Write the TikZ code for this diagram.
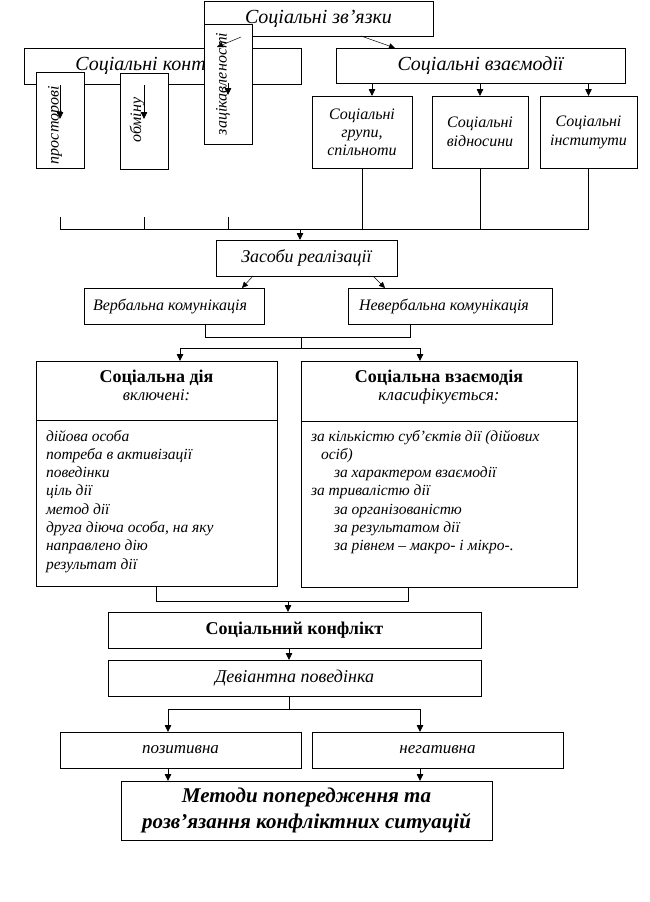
\documentclass[tikz,border=0pt]{standalone}
\usepackage{fontspec}
\setmainfont{Liberation Serif}
\usetikzlibrary{arrows.meta}
\newcommand\fsz[2]{\fontsize{#1pt}{#2pt}\selectfont}
\begin{document}
\begin{tikzpicture}[x=1pt,y=-1pt,
  every node/.style={inner sep=0pt, outer sep=0pt},
  bx/.style={draw, line width=0.9pt, fill=white},
  sz/.style 2 args={minimum width=#1pt, minimum height=#2pt},
  ln/.style={line width=0.8pt},
  arr/.style={ln, -{Triangle[length=7pt,width=6.5pt]}},
  tarr/.style={line width=0.5pt, -{Triangle[length=6pt,width=5.5pt]}},
  it/.style={font=\fsz{15.5}{18}\itshape},
  big/.style={font=\fsz{20}{22}\itshape},
  rot/.style={rotate=90, font=\fsz{16}{18}\itshape},
]
\fill[white] (0,0) rectangle (649,902);
\useasboundingbox (0,0) rectangle (649,902);

% top level
\node[bx, sz={229}{35}, big] (zv) at (318.5,18.5) {Соціальні зв’язки};
\node[bx, sz={277}{36}, big] (kont) at (162.5,66) {Соціальні контакти};
\node[bx, sz={48}{96}] (prost) at (60,120) {};
\node[bx, sz={48}{96}] (obm) at (144,121) {};
\node[bx, sz={48}{120}] (zac) at (228,84) {};
\node[rot] (prostt) at (55,125) {просторові};
\node[rot] (obmt) at (137,120) {обміну};
\node[rot] (zact) at (223,84) {зацікавленості};
\draw[arr] ([yshift=-13pt]prost.north) -- ([yshift=-47pt]prost.north);
\draw[arr] ([yshift=-12pt]obm.north) -- ([yshift=-46pt]obm.north);
\draw[tarr] ([xshift=13pt,yshift=-13pt]zac.north) -- ([xshift=-11pt,yshift=-23pt]zac.north);
\draw[arr] ([yshift=-59pt]zac.north) -- ([yshift=-71pt]zac.north);

\node[bx, sz={289}{35}, big] (vz) at (480.5,65.5) {Соціальні взаємодії};
\draw[tarr] ([xshift=42.5pt]zv.south) -- ([xshift=-85.5pt]vz.north);

\node[bx, sz={100}{72}, align=center, font=\fsz{16}{18}\itshape] (grp) at (362,132) {Соціальні\\групи,\\спільноти};
\node[bx, sz={96}{72}, align=center, font=\fsz{16}{19}\itshape] (vid) at (480,132) {Соціальні\\відносини};
\node[bx, sz={97}{72}, align=center, font=\fsz{16}{19}\itshape] (inst) at (588.5,132) {Соціальні\\інститути};
\draw[arr] ([xshift=10pt]grp.north |- vz.south) -- ([xshift=10pt]grp.north);
\draw[arr] (vid.north |- vz.south) -- (vid.north);
\draw[arr] (inst.north |- vz.south) -- (inst.north);

% bracket
\coordinate (t1) at (60,217);
\coordinate (t2) at (144,217);
\coordinate (t3) at (228,217);
\coordinate (bar) at (300,229);
\draw[ln] (t1) -- (t1 |- bar);
\draw[ln] (t2) -- (t2 |- bar);
\draw[ln] (t3) -- (t3 |- bar);
\draw[ln] (grp.south) -- (grp.south |- bar);
\draw[ln] (vid.south) -- (vid.south |- bar);
\draw[ln] (inst.south) -- (inst.south |- bar);
\draw[ln] (t1 |- bar) -- (inst.south |- bar);

\node[bx, sz={181}{36}, font=\fsz{18}{20}\itshape] (zas) at (306.5,258) {Засоби реалізації};
\draw[arr] (bar) -- (bar |- zas.north);

\node[bx, sz={180}{36}] (verb) at (174,306) {};
\node[anchor=west, font=\fsz{16}{18}\itshape] (verbt) at (93,306) {Вербальна комунікація};
\node[bx, sz={204}{36}] (nverb) at (450,306) {};
\node[anchor=west, font=\fsz{16}{18}\itshape] (nverbt) at (359,306) {Невербальна комунікація};
\draw[tarr] ([xshift=-53.5pt]zas.south) -- ([xshift=68pt]verb.north);
\draw[tarr] ([xshift=66.5pt]zas.south) -- ([xshift=-65pt]nverb.north);

% action / interaction boxes
\node[bx, sz={241}{225}] (dia) at (156.5,473.5) {};
\node[bx, sz={276}{226}] (vzd) at (439,474) {};
\draw[ln] ([yshift=-59pt]dia.north west) -- ([yshift=-59pt]dia.north east);
\draw[ln] ([yshift=-60pt]vzd.north west) -- ([yshift=-60pt]vzd.north east);
\node[font=\fsz{18}{20}\bfseries] (diat) at (156.5,378) {Соціальна дія};
\node[font=\fsz{16.5}{18}\itshape] (diak) at (156.5,395) {включені:};
\node[font=\fsz{18}{20}\bfseries] (vzdt) at (439,378) {Соціальна взаємодія};
\node[font=\fsz{17}{18}\itshape] (vzdk) at (439,396) {класифікується:};

\foreach \t [count=\i] in {дійова особа, потреба в активізації, поведінки, ціль дії, метод дії, {друга діюча особа, на яку}, направлено дію, результат дії}
  \node[anchor=base west, it] (dl\i) at (46,{441+18.33*(\i-1)}) {\t};
\foreach \xx/\t [count=\i] in {311/{за кількістю суб’єктів дії (дійових}, 321/{осіб)}, 334/{за характером взаємодії}, 311/{за тривалістю дії}, 334/{за організованістю}, 334/{за результатом дії}, 334/{за рівнем – макро- і мікро-.}}
  \node[anchor=base west, it] (rl\i) at (\xx,{441+18.33*(\i-1)}) {\t};

% connectors between verbal boxes and action boxes
\coordinate (m1) at (301,337);
\coordinate (m2) at (301,348);
\draw[ln] ([xshift=31pt]verb.south) |- (m1);
\draw[ln] ([xshift=-40pt]nverb.south) |- (m1);
\draw[ln] (m1) -- (m2);
\draw[arr] (m2) -| ([xshift=23.5pt]dia.north);
\draw[arr] (m2) -| ([xshift=-19pt]vzd.north);

% lower part
\node[bx, sz={373}{36}, font=\fsz{18}{20}\bfseries] (konf) at (294.5,630) {Соціальний конфлікт};
\coordinate (m3) at (288,601);
\draw[ln] (dia.south) |- (m3);
\draw[ln] ([xshift=-31pt]vzd.south) |- (m3);
\draw[arr] (m3) -- (m3 |- konf.north);

\node[bx, sz={373}{36}, font=\fsz{18}{20}\itshape] (dev) at (294.5,678) {Девіантна поведінка};
\draw[arr] ([xshift=-5.5pt]konf.south) -- ([xshift=-5.5pt]dev.north);

\node[bx, sz={241}{36}, font=\fsz{17}{20}\itshape] (poz) at (180.5,750) {позитивна};
\node[bx, sz={251}{36}, font=\fsz{17}{20}\itshape] (neg) at (437.5,750) {негативна};
\coordinate (m4) at (289,709);
\draw[ln] ([xshift=-5.5pt]dev.south) -- (m4);
\draw[arr] (m4) -| ([xshift=-12.5pt]poz.north);
\draw[arr] (m4) -| ([xshift=-17.5pt]neg.north);

\node[bx, sz={371}{59}, align=center, font=\fsz{21}{26}\bfseries\itshape] (met) at (306.5,810.5) {Методи попередження та\\розв’язання конфліктних ситуацій};
\draw[arr] ([xshift=-12.5pt]poz.south) -- ([xshift=-12.5pt]poz.south |- met.north);
\draw[arr] ([xshift=-17.5pt]neg.south) -- ([xshift=-17.5pt]neg.south |- met.north);
\end{tikzpicture}
\end{document}
